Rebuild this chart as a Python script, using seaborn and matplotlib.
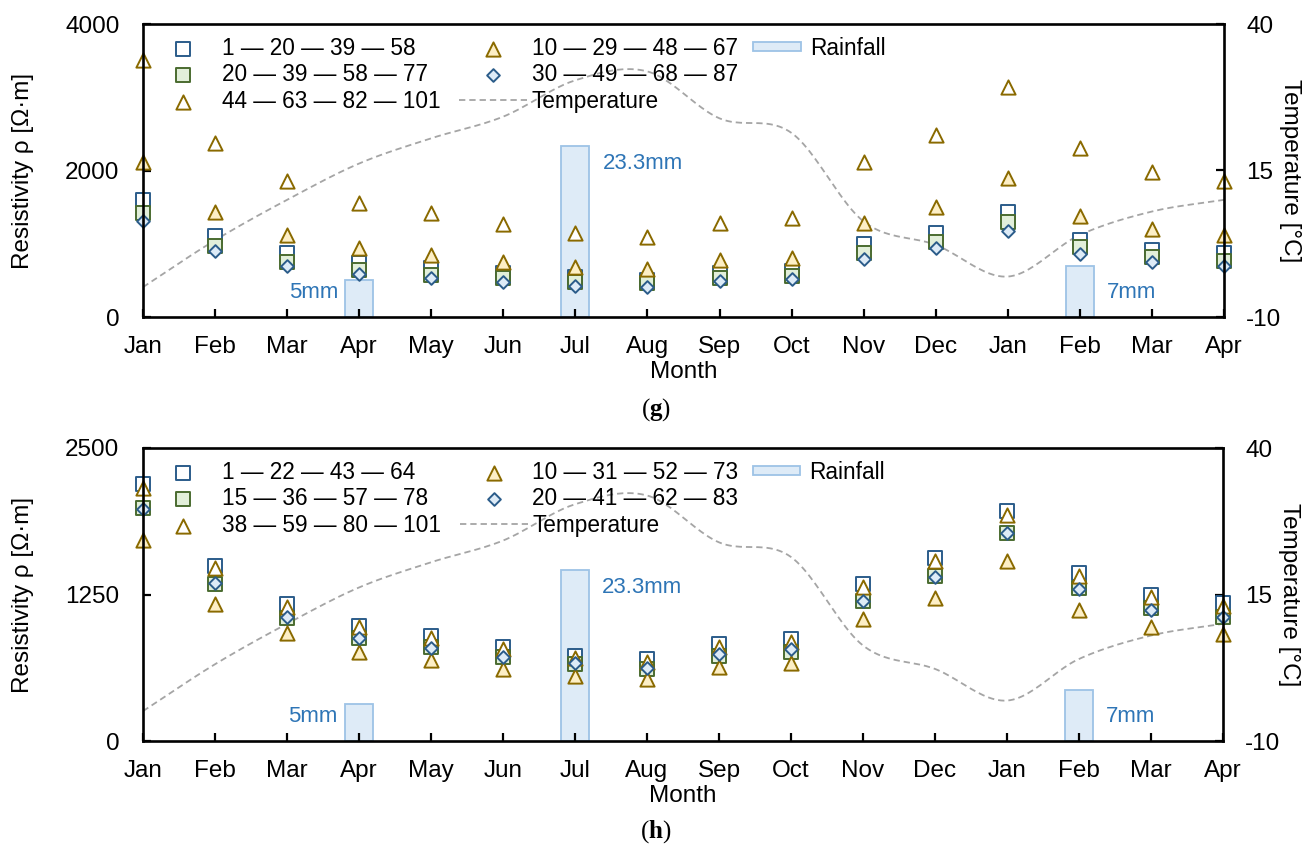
import numpy as np
import matplotlib
matplotlib.use("Agg")
import matplotlib.pyplot as plt
import matplotlib.patches as mpatches
from matplotlib.legend_handler import HandlerPatch
import seaborn as sns

# ---------------------------------------------------------------- data
months = ["Jan", "Feb", "Mar", "Apr", "May", "Jun", "Jul", "Aug",
          "Sep", "Oct", "Nov", "Dec", "Jan", "Feb", "Mar", "Apr"]

# monthly mean air temperature [°C]
temperature = [-4.9, 3.1, 10.0, 16.2, 20.5, 24.2, 30.4, 31.9,
               23.9, 21.4, 6.3, 2.3, -3.1, 4.0, 8.0, 10.0]

# rainfall events: month index and amount [mm]
rain_month = [3, 6, 13]
rain_mm = [5, 23.3, 7]

# panel (g) apparent resistivity [Ω·m] per electrode array
g_labels = ["1 — 20 — 39 — 58", "20 — 39 — 58 — 77", "44 — 63 — 82 — 101",
            "10 — 29 — 48 — 67", "30 — 49 — 68 — 87"]
g_a = [1597, 1106, 869, 741, 665, 596, 551, 505, 596, 632, 997, 1143, 1438, 1051, 915, 869]
g_b = [1424, 973, 755, 642, 573, 528, 482, 460, 528, 560, 869, 1020, 1301, 951, 815, 769]
g_c = [3510, 2375, 1857, 1561, 1416, 1270, 1143, 1097, 1288, 1347, 2120, 2485, 3144, 2303, 1984, 1861]
g_d = [2116, 1433, 1119, 938, 846, 755, 687, 655, 778, 810, 1288, 1497, 1893, 1379, 1197, 1119]
g_e = [1315, 901, 701, 583, 528, 482, 428, 414, 491, 514, 787, 938, 1178, 860, 747, 696]

# panel (h)
h_labels = ["1 — 22 — 43 — 64", "15 — 36 — 57 — 78", "38 — 59 — 80 — 101",
            "10 — 31 — 52 — 73", "20 — 41 — 62 — 83"]
h_a = [2193, 1493, 1169, 984, 899, 805, 728, 697, 825, 868, 1340, 1559, 1965, 1431, 1246, 1180]
h_b = [1985, 1340, 1047, 882, 799, 714, 657, 612, 725, 762, 1197, 1408, 1777, 1303, 1132, 1061]
h_c = [2156, 1473, 1146, 975, 876, 785, 711, 677, 805, 847, 1317, 1536, 1928, 1408, 1226, 1152]
h_d = [1715, 1169, 919, 762, 691, 612, 555, 526, 629, 663, 1038, 1218, 1536, 1118, 975, 913]
h_e = [1977, 1345, 1055, 876, 796, 720, 663, 620, 742, 782, 1195, 1402, 1772, 1294, 1118, 1055]

# ---------------------------------------------------------------- style
BLUE = "#2b5c8a"
GREEN = "#4a6b30"
GREEN_FILL = "#e2efda"
GOLD = "#8a6a00"
GOLD_FILL = "#fdefc6"
DIAMOND_FILL = "#ddebf7"
RAIN_FACE = "#deebf7"
RAIN_EDGE = "#9dc3e6"
RAIN_TEXT = "#2e75b6"
TEMP_COLOR = "#a5a5a5"

MARKERS = [
    dict(marker="s", s=115, color="white", edgecolor=BLUE),
    dict(marker="s", s=115, color=GREEN_FILL, edgecolor=GREEN),
    dict(marker="^", s=105, color="white", edgecolor=GOLD),
    dict(marker="^", s=105, color=GOLD_FILL, edgecolor=GOLD),
    dict(marker="D", s=42, color=DIAMOND_FILL, edgecolor=BLUE),
]
BAR_W = 0.39
TICK_FS = 17.5
LEG_FS = 16.3
NOTE_FS = 16.0

sns.set_theme(style="white")
plt.rcParams["font.family"] = ["Liberation Sans", "DejaVu Sans"]
plt.rcParams["text.color"] = "black"
plt.rcParams["axes.labelcolor"] = "black"
plt.rcParams["xtick.color"] = "black"
plt.rcParams["ytick.color"] = "black"
plt.rcParams["axes.unicode_minus"] = False
plt.rcParams["mathtext.fontset"] = "custom"
plt.rcParams["mathtext.rm"] = "Liberation Serif"
plt.rcParams["mathtext.bf"] = "Liberation Serif:bold"


def smooth_curve(xv, yv, steps=24):
    """Cubic Hermite (Catmull-Rom) curve through the monthly points."""
    x = np.asarray(xv, float)
    y = np.asarray(yv, float)
    mx, my = np.gradient(x), np.gradient(y)
    t = np.linspace(0, 1, steps, endpoint=False)
    h00 = 2 * t**3 - 3 * t**2 + 1
    h10 = t**3 - 2 * t**2 + t
    h01 = -2 * t**3 + 3 * t**2
    h11 = t**3 - t**2
    xs, ys = [], []
    for i in range(len(x) - 1):
        xs.append(h00 * x[i] + h10 * mx[i] + h01 * x[i + 1] + h11 * mx[i + 1])
        ys.append(h00 * y[i] + h10 * my[i] + h01 * y[i + 1] + h11 * my[i + 1])
    xs.append([x[-1]])
    ys.append([y[-1]])
    return np.concatenate(xs), np.concatenate(ys)


def rain_key(legend, orig_handle, xdescent, ydescent, width, height, fontsize):
    return mpatches.Rectangle((-xdescent + 0.23 * width, -ydescent + 0.22 * height),
                              0.7 * width, 0.56 * height)


def draw_panel(ax, series, labels, ymax, yticks):
    x = np.arange(len(months))

    ax_rain = ax.twinx()
    ax_temp = ax.twinx()
    ax_rain.set_zorder(1)
    ax_temp.set_zorder(2)
    ax.set_zorder(3)
    ax.patch.set_visible(False)

    # rainfall bars on a hidden 0–40 mm scale
    spacing = np.diff(np.sort(rain_month)).min()
    sns.barplot(x=rain_month, y=rain_mm, native_scale=True, width=BAR_W / spacing,
                color=RAIN_FACE, edgecolor=RAIN_EDGE, linewidth=1.3, saturation=1,
                errorbar=None, ax=ax_rain)
    ax_rain.set_ylim(0, 40)
    ax_rain.yaxis.set_visible(False)
    for mi, mm in zip(rain_month, rain_mm):
        if mm < 6:
            ax_rain.text(mi - BAR_W / 2 - 0.1, 3.4, f"{mm:g}mm", ha="right", va="center",
                         color=RAIN_TEXT, fontsize=NOTE_FS)
        elif mm < 10:
            ax_rain.text(mi + BAR_W / 2 + 0.18, 3.4, f"{mm:g}mm", ha="left", va="center",
                         color=RAIN_TEXT, fontsize=NOTE_FS)
        else:
            ax_rain.text(mi + BAR_W / 2 + 0.18, 21.0, f"{mm:g}mm", ha="left", va="center",
                         color=RAIN_TEXT, fontsize=NOTE_FS)

    # smoothed temperature line
    tx, ty = smooth_curve(x, temperature)
    sns.lineplot(x=tx, y=ty, sort=False, estimator=None, color=TEMP_COLOR,
                 linewidth=1.3, label="Temperature", legend=False, ax=ax_temp)
    ax_temp.lines[0].set_dashes([3.5, 2.2])
    ax_temp.set_ylim(-10, 40)
    ax_temp.set_yticks([-10, 15, 40])

    # resistivity markers
    for vals, lab, st in zip(series, labels, MARKERS):
        sns.scatterplot(x=x, y=vals, linewidth=1.4, label=lab, legend=False,
                        clip_on=False, ax=ax, **st)

    ax.set_xlim(0, len(months) - 1)
    ax.set_xticks(x)
    ax.set_xticklabels(months)
    ax.set_ylim(0, ymax)
    ax.set_yticks(yticks)

    for a in (ax_rain, ax_temp):
        for sp in a.spines.values():
            sp.set_visible(False)
    for sp in ax.spines.values():
        sp.set_visible(True)
        sp.set_color("black")
        sp.set_linewidth(1.9)

    ax.tick_params(axis="x", direction="in", length=6, width=1.6, color="black",
                   labelsize=TICK_FS, pad=14, bottom=True)
    ax.tick_params(axis="y", direction="in", length=6, width=1.6, color="black",
                   labelsize=TICK_FS, pad=17, left=True)
    ax_temp.tick_params(axis="y", direction="in", length=6, width=1.6, color="black",
                        labelsize=TICK_FS, pad=16, right=True)

    ax.set_xlabel("Month", fontsize=TICK_FS, va="center")
    ax.xaxis.set_label_coords(0.5, -55 / 293)
    ax.set_ylabel("Resistivity ρ [Ω·m]", fontsize=TICK_FS, va="center")
    ax.yaxis.set_label_coords(-120 / 1081, 0.5)
    ax_temp.set_ylabel("Temperature [°C]", fontsize=TICK_FS, rotation=270, va="center")
    ax_temp.yaxis.set_label_coords(1147 / 1081, 0.5)
    ax_rain.set_ylabel("")
    ax_rain.set_xlabel("")

    # legend: two columns of series plus a separate rainfall key
    handles = list(ax.collections[:5]) + [ax_temp.lines[0]]
    names = list(labels) + ["Temperature"]
    common = dict(loc="upper left", frameon=False, fontsize=LEG_FS, handlelength=3.0,
                  handletextpad=0.2, labelspacing=0.16, borderpad=0, borderaxespad=0)
    leg = ax.legend(handles, names, ncol=2, columnspacing=0.83,
                    bbox_to_anchor=(0.006, 0.957), **common)
    ax.add_artist(leg)
    ax.legend([ax_rain.patches[0]], ["Rainfall"], bbox_to_anchor=(0.55, 0.957),
              handler_map={ax_rain.patches[0]: HandlerPatch(patch_func=rain_key)},
              **common)


fig = plt.figure(figsize=(13.12, 8.47), dpi=100)
ax_g = fig.add_axes([143 / 1312, 1 - 317 / 847, 1081 / 1312, 293 / 847])
ax_h = fig.add_axes([143 / 1312, 1 - 741 / 847, 1080 / 1312, 293 / 847])

draw_panel(ax_g, [g_a, g_b, g_c, g_d, g_e], g_labels, 4000, [0, 2000, 4000])
draw_panel(ax_h, [h_a, h_b, h_c, h_d, h_e], h_labels, 2500, [0, 1250, 2500])

fig.text(656 / 1312, 1 - 410 / 847, r"($\mathbf{g}$)", ha="center", va="center",
         fontsize=18, family="Liberation Serif")
fig.text(656 / 1312, 1 - 832 / 847, r"($\mathbf{h}$)", ha="center", va="center",
         fontsize=18, family="Liberation Serif")

fig.savefig("out.png", dpi=100, facecolor="white")
